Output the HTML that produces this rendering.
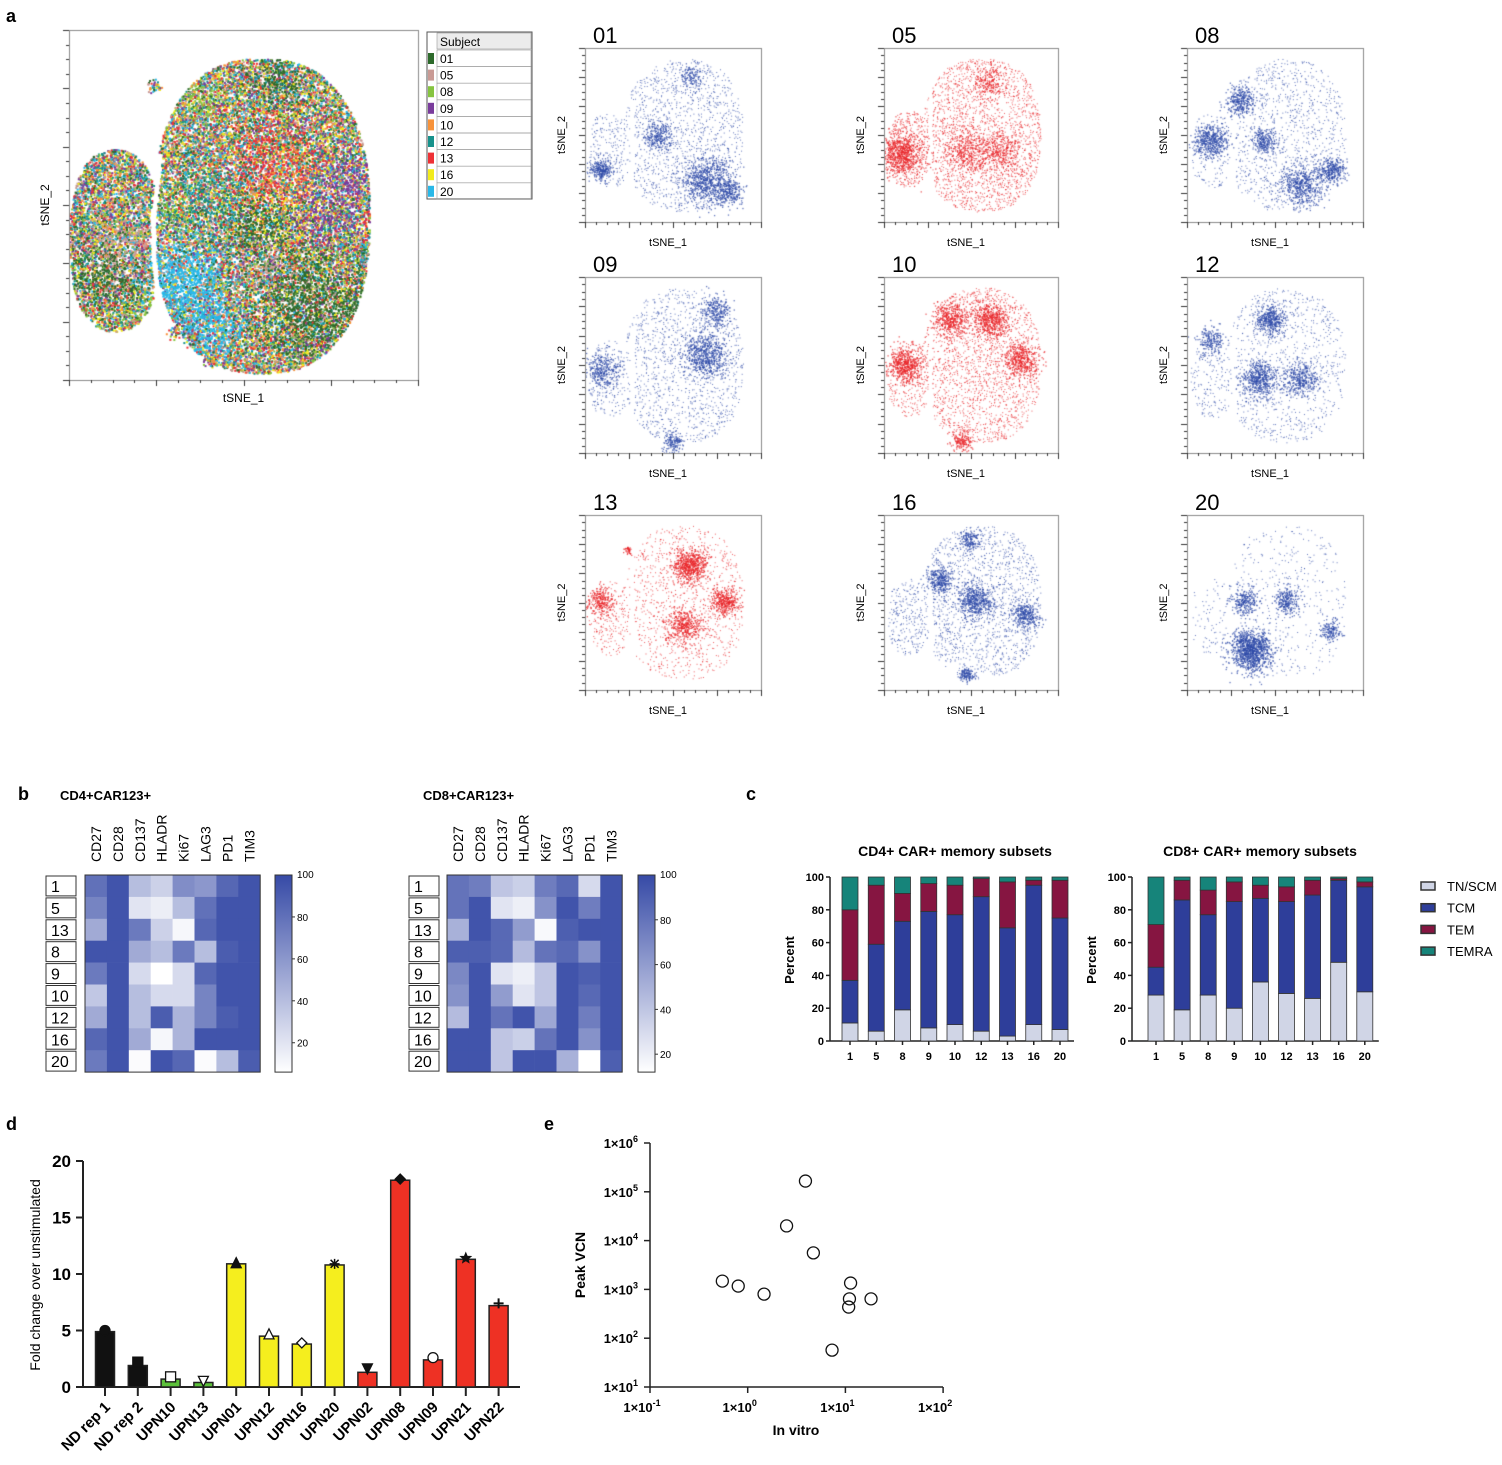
<!DOCTYPE html>
<html><head><meta charset="utf-8">
<style>
html,body{margin:0;padding:0;background:#fff}
#root{position:relative;width:1502px;height:1465px;overflow:hidden;font-family:"Liberation Sans",Arial,sans-serif}
canvas{position:absolute}
svg{position:absolute;left:0;top:0}
</style></head>
<body>
<div id="root">
<svg id="fig" width="1502" height="1465" xmlns="http://www.w3.org/2000/svg"></svg>
</div>
<script>
// ---------- DATA ----------
const subjects=['01','05','08','09','10','12','13','16','20'];
const subjColors=['#2d6a2b','#c99a94','#86c440','#7a3c9c','#f7923a','#17928c','#ee3135','#f2eb1b','#29b8e8'];
const subjDotColors=['#2f4ba8','#e8262a','#2f4ba8','#2f4ba8','#e8262a','#2f4ba8','#e8262a','#2f4ba8','#2f4ba8'];
// dense regions per subject: [x,y,sigma,count] normalized
const subjClusters=[
 [[0.09,0.7,0.03,260],[0.68,0.76,0.07,700],[0.41,0.5,0.04,250],[0.6,0.16,0.03,120],[0.82,0.82,0.04,250]],
 [[0.1,0.6,0.06,700],[0.47,0.59,0.06,300],[0.6,0.19,0.04,160],[0.65,0.6,0.06,300]],
 [[0.13,0.53,0.05,450],[0.3,0.3,0.04,300],[0.65,0.79,0.06,500],[0.44,0.53,0.04,250],[0.82,0.7,0.04,300]],
 [[0.09,0.53,0.05,300],[0.68,0.44,0.06,600],[0.74,0.19,0.04,250],[0.5,0.94,0.03,150]],
 [[0.12,0.5,0.05,500],[0.38,0.24,0.05,400],[0.61,0.24,0.05,500],[0.78,0.47,0.05,400],[0.44,0.93,0.03,150]],
 [[0.47,0.24,0.04,400],[0.41,0.58,0.05,500],[0.64,0.58,0.05,350],[0.13,0.36,0.04,200]],
 [[0.59,0.29,0.05,600],[0.79,0.49,0.04,350],[0.56,0.63,0.05,400],[0.09,0.49,0.04,250],[0.24,0.2,0.01,40]],
 [[0.52,0.49,0.05,500],[0.32,0.37,0.04,300],[0.81,0.57,0.04,300],[0.49,0.14,0.03,150],[0.47,0.91,0.02,120]],
 [[0.36,0.77,0.06,1100],[0.33,0.49,0.04,250],[0.56,0.49,0.04,250],[0.81,0.66,0.03,150]]
];
const subjBackground=[1500,2600,1200,1500,2200,1100,1200,1700,500];
// main tSNE colour dominance clusters: [subjectIndex,x,y,sigma,weight]
const mainClusters=[[0,0.55,0.56,0.05,12],[0,0.68,0.78,0.07,14],[0,0.84,0.82,0.05,12],[0,0.1,0.7,0.05,12],[0,0.6,0.15,0.04,8],
 [8,0.33,0.72,0.06,20],[8,0.4,0.86,0.05,12],[6,0.58,0.38,0.07,6],[6,0.88,0.55,0.03,8],[3,0.72,0.52,0.06,5],[3,0.8,0.42,0.05,5],
 [1,0.17,0.62,0.06,6],[1,0.55,0.66,0.05,3],[2,0.38,0.2,0.03,8],[2,0.3,0.52,0.03,6],[2,0.2,0.8,0.04,5],[4,0.62,0.42,0.06,3],[5,0.38,0.48,0.06,5],[7,0.6,0.55,0.05,3]];

const hmMarkers=['CD27','CD28','CD137','HLADR','Ki67','LAG3','PD1','TIM3'];
const hmRows=['1','5','13','8','9','10','12','16','20'];
const cd4Values=[
 [80,95,40,30,65,60,85,95],[70,95,20,15,40,80,95,95],[50,95,75,30,10,85,95,95],
 [95,95,50,40,75,40,90,95],[75,95,25,5,25,85,95,95],[35,95,40,25,25,70,95,95],
 [50,95,40,90,45,70,90,95],[85,95,50,10,45,95,95,95],[75,95,8,95,85,8,40,90]];
const cd8Values=[
 [80,75,40,35,75,85,30,95],[80,95,25,20,65,95,75,95],[50,95,85,60,15,90,95,95],
 [90,90,85,45,80,85,65,95],[70,95,25,20,40,95,90,95],[65,95,60,25,40,95,85,95],
 [45,95,80,95,55,95,75,95],[95,95,40,35,80,95,65,95],[95,95,40,95,95,50,10,90]];
const hmTicks=[20,40,60,80,100];

const memCats=['1','5','8','9','10','12','13','16','20'];
const memSubsets=['TN/SCM','TCM','TEM','TEMRA'];
const cd4TN=[11,6,19,8,10,6,3,10,7];
const cd4TCM=[26,53,54,71,67,82,66,85,68];
const cd4TEM=[43,36,17,17,18,11,28,3,23];
const cd4TEMRA=[20,5,10,4,5,1,3,2,2];
const cd8TN=[28,19,28,20,36,29,26,48,30];
const cd8TCM=[17,67,49,65,51,56,63,50,64];
const cd8TEM=[26,12,15,12,8,9,9,1,3];
const cd8TEMRA=[29,2,8,3,5,6,2,1,3];
const pctTicks=[0,20,40,60,80,100];

const foldCats=['ND rep 1','ND rep 2','UPN10','UPN13','UPN01','UPN12','UPN16','UPN20','UPN02','UPN08','UPN09','UPN21','UPN22'];
const foldValues=[4.9,1.9,0.7,0.4,10.9,4.5,3.8,10.8,1.3,18.3,2.4,11.3,7.2];
const foldPoints=[5.0,2.2,0.9,0.5,11.0,4.7,3.9,10.9,1.6,18.4,2.6,11.4,7.4];
const foldGroups=['nd','nd','g','g','y','y','y','y','r','r','r','r','r'];
const foldMarkers=['circle','square','osquare','otridown','triup','otriup','odiamond','asterisk','tridown','diamond','ocircle','star','plus'];
const foldTicks=[0,5,10,15,20];

const vitroX=[0.55,0.8,1.47,2.5,3.9,4.7,7.3,11.3,11,10.8,18.3];
const vcnY=[1480,1170,800,20000,166000,5600,57,1350,640,435,640];
const logXTicks=[-1,0,1,2];
const logYTicks=[1,2,3,4,5,6];

// ---------- helpers ----------
const NS='http://www.w3.org/2000/svg';
const svg=document.getElementById('fig');
function mk(tag,attrs,parent){const e=document.createElementNS(NS,tag);for(const k in attrs)e.setAttribute(k,attrs[k]);(parent||svg).appendChild(e);return e;}
function txt(s,attrs,parent){const e=mk('text',attrs,parent);e.textContent=s;return e;}
function rng(seed){return function(){seed|=0;seed=seed+0x6D2B79F5|0;let t=Math.imul(seed^seed>>>15,1|seed);t=t+Math.imul(t^t>>>7,61|t)^t;return((t^t>>>14)>>>0)/4294967296;}}
function gauss(r){return Math.sqrt(-2*Math.log(r()+1e-9))*Math.cos(2*Math.PI*r());}

[['a',6,22],['b',18,800],['c',746,800],['d',6,1130],['e',544,1130]].forEach(([l,x,y])=>{
 const t=txt(l,{x:x,y:y,'font-size':18,'font-weight':'bold','font-family':'Liberation Sans, sans-serif'});
 
 
});

// ---------- tSNE ----------
function inShape(x,y,lob){ // superellipses
 const p=lob[8]||2.6;
 const a=Math.abs((x-lob[0])/lob[2])**p+Math.abs((y-lob[1])/lob[3])**p;
 const m=Math.abs((x-lob[4])/lob[6])**p+Math.abs((y-lob[5])/lob[7])**p;
 return a<=1||m<=1;
}
function axesOnCanvas(ctx,ox,oy,w,h){
 ctx.strokeStyle='#8a8a8a';ctx.lineWidth=1;ctx.strokeRect(ox+0.5,oy+0.5,w,h);
 ctx.strokeStyle='#333';
 for(let i=0;i<=24;i++){const y=oy+h-i*h/24;const L=i%4==0?6:3;ctx.beginPath();ctx.moveTo(ox-L,Math.round(y)+0.5);ctx.lineTo(ox,Math.round(y)+0.5);ctx.stroke();}
 for(let i=0;i<=16;i++){const x=ox+i*w/16;const L=i%4==0?6:3;ctx.beginPath();ctx.moveTo(Math.round(x)+0.5,oy+h);ctx.lineTo(Math.round(x)+0.5,oy+h+L);ctx.stroke();}
}
function makeCanvas(x,y,w,h,name){
 const c=document.createElement('canvas');c.width=w+20;c.height=h+20;c.style.left=(x-10)+'px';c.style.top=(y-10)+'px';
 
 
 document.getElementById('root').appendChild(c);return c.getContext('2d');
}
(function(){
 const X=69,Y=30,W=349,H=350;
 const ctx=makeCanvas(X,Y,W,H,'tsne-all-subjects-plot');
 const r=rng(7);const shape=[0.13,0.6,0.13,0.26,0.55,0.53,0.31,0.45,2.4];
 let n=0;
 while(n<28000){
  const x=r(),y=r();
  if(!inShape(x,y,shape))continue;
  if(y>0.35&&y<0.92&&Math.abs(x-(0.255+0.015*Math.sin(y*8)))<0.008)continue;
  if(y<0.12&&Math.abs(x-0.55)>0.16)continue;
  const w=subjects.map(()=>1);
  mainClusters.forEach(c=>{const d=(x-c[1])**2+(y-c[2])**2;w[c[0]]+=c[4]*Math.exp(-d/(2*c[3]*c[3]));});
  let s=w.reduce((a,b)=>a+b,0)*r(),k=0;while(s>w[k]){s-=w[k];k++;}
  ctx.fillStyle=subjColors[Math.min(k,8)];
  ctx.fillRect(10+x*W,10+y*H,2,2);n++;
 }
 [[0.24,0.16],[0.3,0.86],[0.35,0.88],[0.4,0.94]].forEach(p=>{for(let i=0;i<40;i++){ctx.fillStyle=subjColors[Math.floor(r()*9)];ctx.fillRect(10+(p[0]+gauss(r)*0.01)*W,10+(p[1]+gauss(r)*0.01)*H,2,2);}});
 axesOnCanvas(ctx,10,10,W,H);
 txt('tSNE_1',{x:X+W/2,y:402,'font-size':12,'text-anchor':'middle'});
 const t=txt('tSNE_2',{x:0,y:0,'font-size':12,'text-anchor':'middle',transform:'translate(49,205) rotate(-90)'});
 
 const g=mk('g',{});
 mk('rect',{x:427,y:32,width:105,height:167,fill:'#fff',stroke:'#555','stroke-width':1},g);
 mk('rect',{x:437,y:33,width:94,height:16,fill:'#ececec',stroke:'#999','stroke-width':0.6},g);
 txt('Subject',{x:440,y:46,'font-size':12},g);
 subjects.forEach((s,i)=>{const yy=50+i*16.6;
  const e=mk('g',{},g);
  mk('rect',{x:437,y:yy,width:94,height:16.6,fill:'none',stroke:'#999','stroke-width':0.6},e);
  mk('rect',{x:428,y:yy+3,width:6,height:11,fill:subjColors[i]},e);
  txt(s,{x:440,y:yy+13,'font-size':12},e);});
})();
(function(){
 const colX=[585,884,1187],colW=[176,174,176],rowY=[48,277,515],rowH=[174,176,175];
 const shape=[0.14,0.58,0.12,0.22,0.56,0.5,0.34,0.44,2.4];
 subjects.forEach((s,i)=>{
  const X=colX[i%3],Y=rowY[Math.floor(i/3)],W=colW[i%3],H=rowH[Math.floor(i/3)];
  const ctx=makeCanvas(X,Y,W,H,'tsne-subject-'+s+'-plot');
  const r=rng(100+i);ctx.fillStyle=subjDotColors[i];ctx.globalAlpha=0.75;
  let n=0;while(n<subjBackground[i]){const x=r(),y=r();if(!inShape(x,y,shape))continue;if(y>0.3&&y<0.9&&Math.abs(x-0.265)<0.012)continue;ctx.fillRect(10+x*W,10+y*H,1,1);n++;}
  subjClusters[i].forEach(c=>{for(let k=0;k<c[3];k++){const x=c[0]+gauss(r)*c[2],y=c[1]+gauss(r)*c[2];if(x<0||x>1||y<0||y>1)continue;ctx.fillRect(10+x*W,10+y*H,1.3,1.3);}});
  ctx.globalAlpha=1;
  axesOnCanvas(ctx,10,10,W,H);
  const t1=txt(s,{x:X+8,y:Y-5,'font-size':22});
  const t2=txt('tSNE_1',{x:X+W/2-5,y:Y+H+24,'font-size':11,'text-anchor':'middle'});
  const t3=txt('tSNE_2',{x:0,y:0,'font-size':11,'text-anchor':'middle',transform:'translate('+(X-20)+','+(Y+H/2)+') rotate(-90)'});
 });
})();

// ---------- heatmaps ----------
function heatColor(v,vmin){let t=(v-vmin)/(100-vmin);t=Math.max(0,Math.min(1,t));
 const c0=[255,255,255],c1=[54,74,166];return 'rgb('+c0.map((a,k)=>Math.round(a+(c1[k]-a)*t)).join(',')+')';}
function heatmap(vals,cx,lx,cbx,title,titleX,vmin,name){
 const g=mk('g',{});
 txt(title,{x:titleX,y:800,'font-size':13,'font-weight':'bold'},g);
 const top=875,cw=21.9,ch=21.9;
 hmMarkers.forEach((m,j)=>{txt(m,{x:0,y:0,'font-size':14,transform:'translate('+(cx+cw*j+cw/2+5)+',862) rotate(-90)'},g);});
 vals.forEach((row,i)=>{
  mk('rect',{x:lx,y:top+i*ch+1,width:30,height:ch-2,fill:'#fff',stroke:'#333','stroke-width':1},g);
  txt(hmRows[i],{x:lx+5,y:top+i*ch+17,'font-size':16},g);
  row.forEach((v,j)=>{const c=mk('rect',{x:cx+j*cw,y:top+i*ch,width:cw+0.3,height:ch+0.3,fill:heatColor(v,vmin)},g);
   });
 });
 mk('rect',{x:cx,y:top,width:cw*8,height:ch*9,fill:'none',stroke:'#333','stroke-width':1},g);
 const gid='grad'+name;const d=mk('defs',{},g);const lg=mk('linearGradient',{id:gid,x1:0,y1:1,x2:0,y2:0},d);
 mk('stop',{offset:0,'stop-color':'#fff'},lg);mk('stop',{offset:1,'stop-color':'rgb(54,74,166)'},lg);
 const H=ch*9;mk('rect',{x:cbx,y:top,width:17,height:H,fill:'url(#'+gid+')',stroke:'#333','stroke-width':1},g);
 hmTicks.forEach(t=>{const y=top+H-(t-vmin)/(100-vmin)*H;
  if(t<100)mk('line',{x1:cbx+17,x2:cbx+20,y1:y,y2:y,stroke:'#333'},g);
  txt(String(t),{x:cbx+22,y:y+(t==100?3:4),'font-size':10},g);});
}
heatmap(cd4Values,85,46,275,'CD4+CAR123+',60,6,'cd4-heatmap');
heatmap(cd8Values,447,409,638,'CD8+CAR123+',423,12,'cd8-heatmap');

// ---------- memory subsets ----------
const subsetColors=['#d0d5e6','#2e3e9a','#861541','#16847a'];
function stacked(series,ax,x0,step,title,titleX,name){
 const g=mk('g',{});
 const y=v=>1041-v*1.64;
 txt(title,{x:titleX,y:856,'font-size':14,'font-weight':'bold','text-anchor':'middle'},g);
 mk('line',{x1:ax,x2:ax,y1:y(0),y2:y(100),stroke:'#222','stroke-width':1.5},g);
 mk('line',{x1:ax,x2:x0+step*8+14,y1:y(0),y2:y(0),stroke:'#222','stroke-width':1.5},g);
 pctTicks.forEach(t=>{mk('line',{x1:ax-4,x2:ax,y1:y(t),y2:y(t),stroke:'#222','stroke-width':1.5},g);
  txt(String(t),{x:ax-6,y:y(t)+4,'font-size':11,'font-weight':'bold','text-anchor':'end'},g);});
 txt('Percent',{x:0,y:0,'font-size':13,'font-weight':'bold','text-anchor':'middle',transform:'translate('+(ax-36)+',960) rotate(-90)'},g);
 memCats.forEach((c,i)=>{const cx=x0+i*step;let acc=0;
  series.forEach((s,k)=>{const v=s[i];const r=mk('rect',{x:cx-8,y:y(acc+v),width:16,height:v*1.64,fill:subsetColors[k],stroke:'#333','stroke-width':0.8},g);
   acc+=v;});
  mk('line',{x1:cx,x2:cx,y1:y(0),y2:y(0)+4,stroke:'#222','stroke-width':1.5},g);
  txt(c,{x:cx,y:1060,'font-size':11,'font-weight':'bold','text-anchor':'middle'},g);});
}
stacked([cd4TN,cd4TCM,cd4TEM,cd4TEMRA],830,850,26.25,'CD4+ CAR+ memory subsets',955,'cd4-memory-chart');
stacked([cd8TN,cd8TCM,cd8TEM,cd8TEMRA],1132,1156,26.1,'CD8+ CAR+ memory subsets',1260,'cd8-memory-chart');
(function(){const g=mk('g',{});
 memSubsets.forEach((s,k)=>{const yy=887+k*21.7;const e=mk('g',{},g);
 mk('rect',{x:1421,y:yy-5,width:14,height:8,fill:subsetColors[k],stroke:'#333','stroke-width':1.5},e);
 txt(s,{x:1447,y:yy+4,'font-size':13},e);});})();

// ---------- fold change ----------
(function(){
 const g=mk('g',{});
 const ax=83,y=v=>1387-v*11.3,x=i=>105+i*32.8;
 const cols={nd:'#111',g:'#5cc13a',y:'#f5ee1e',r:'#ee3124'};
 mk('line',{x1:ax,x2:ax,y1:y(0),y2:y(20),stroke:'#222','stroke-width':2},g);
 mk('line',{x1:ax,x2:520,y1:y(0),y2:y(0),stroke:'#222','stroke-width':2},g);
 foldTicks.forEach(t=>{mk('line',{x1:ax-7,x2:ax,y1:y(t),y2:y(t),stroke:'#222','stroke-width':2},g);
  txt(String(t),{x:ax-12,y:y(t)+6,'font-size':17,'font-weight':'bold','text-anchor':'end'},g);});
 txt('Fold change over unstimulated',{x:0,y:0,'font-size':14,'text-anchor':'middle',transform:'translate(40,1275) rotate(-90)'},g);
 foldCats.forEach((c,i)=>{const cx=x(i),v=foldValues[i];
  const b=mk('rect',{x:cx-9.5,y:y(v),width:19,height:v*11.3,fill:cols[foldGroups[i]],stroke:'#222','stroke-width':1.5},g);
  
  mk('line',{x1:cx,x2:cx,y1:y(0),y2:y(0)+9,stroke:'#222','stroke-width':2},g);
  txt(c,{x:0,y:0,'font-size':15,'font-weight':'bold','text-anchor':'end',transform:'translate('+(cx+6)+',1408) rotate(-45)'},g);
  const py=y(foldPoints[i]),m=foldMarkers[i],s=5;let mark;
  const open=m.startsWith('o');const fill=open?'#fff':'#111';const at={fill:fill,stroke:'#111','stroke-width':1.3};
  if(m=='circle'||m=='ocircle')mark=mk('circle',Object.assign({cx:cx,cy:py,r:s},at),g);
  else if(m=='square'||m=='osquare')mark=mk('rect',Object.assign({x:cx-s,y:py-s,width:2*s,height:2*s},at),g);
  else if(m=='triup'||m=='otriup')mark=mk('polygon',Object.assign({points:`${cx},${py-s} ${cx+s},${py+s} ${cx-s},${py+s}`},at),g);
  else if(m=='tridown'||m=='otridown')mark=mk('polygon',Object.assign({points:`${cx-s},${py-s} ${cx+s},${py-s} ${cx},${py+s}`},at),g);
  else if(m=='diamond'||m=='odiamond')mark=mk('polygon',Object.assign({points:`${cx},${py-s} ${cx+s},${py} ${cx},${py+s} ${cx-s},${py}`},at),g);
  else if(m=='star'){let p=[];for(let k=0;k<10;k++){const a=-Math.PI/2+k*Math.PI/5,rr=k%2?2.2:s;p.push((cx+rr*Math.cos(a)).toFixed(1)+','+(py+rr*Math.sin(a)).toFixed(1));}mark=mk('polygon',Object.assign({points:p.join(' ')},at),g);}
  else if(m=='asterisk')mark=mk('path',{d:`M${cx-s},${py}H${cx+s}M${cx},${py-s}V${py+s}M${cx-4},${py-4}L${cx+4},${py+4}M${cx-4},${py+4}L${cx+4},${py-4}`,stroke:'#111','stroke-width':1.5},g);
  else mark=mk('path',{d:`M${cx-s},${py}H${cx+s}M${cx},${py-s}V${py+s}`,stroke:'#111','stroke-width':2},g);
  
 });
})();

// ---------- VCN scatter ----------
(function(){
 const g=mk('g',{});
 const X=v=>650+(Math.log10(v)+1)*97.7,Y=v=>1387-(Math.log10(v)-1)*48.8;
 mk('line',{x1:650,x2:650,y1:1387,y2:1143,stroke:'#222','stroke-width':1.5},g);
 mk('line',{x1:650,x2:943,y1:1387,y2:1387,stroke:'#222','stroke-width':1.5},g);
 logYTicks.forEach(t=>{const y=Y(10**t);mk('line',{x1:644,x2:650,y1:y,y2:y,stroke:'#222','stroke-width':1.5},g);
  const e=txt('1×10',{x:638,y:y+5,'font-size':13,'font-weight':'bold','text-anchor':'end'},g);
  const sp=mk('tspan',{dy:-6,'font-size':9},e);sp.textContent=String(t);
 });
 logXTicks.forEach(t=>{const x=X(10**t);mk('line',{x1:x,x2:x,y1:1387,y2:1393,stroke:'#222','stroke-width':1.5},g);
  const e=txt('1×10',{x:x-8,y:1412,'font-size':13,'font-weight':'bold','text-anchor':'middle'},g);
  const sp=mk('tspan',{dy:-6,'font-size':9},e);sp.textContent=String(t);
 });
 txt('Peak VCN',{x:0,y:0,'font-size':14,'font-weight':'bold','text-anchor':'middle',transform:'translate(585,1265) rotate(-90)'},g);
 txt('In vitro',{x:796,y:1435,'font-size':14,'font-weight':'bold','text-anchor':'middle'},g);
 vitroX.forEach((v,i)=>{const c=mk('circle',{cx:X(v),cy:Y(vcnY[i]),r:6,fill:'none',stroke:'#111','stroke-width':1.3},g);
  });
})();
</script>
</body></html>
